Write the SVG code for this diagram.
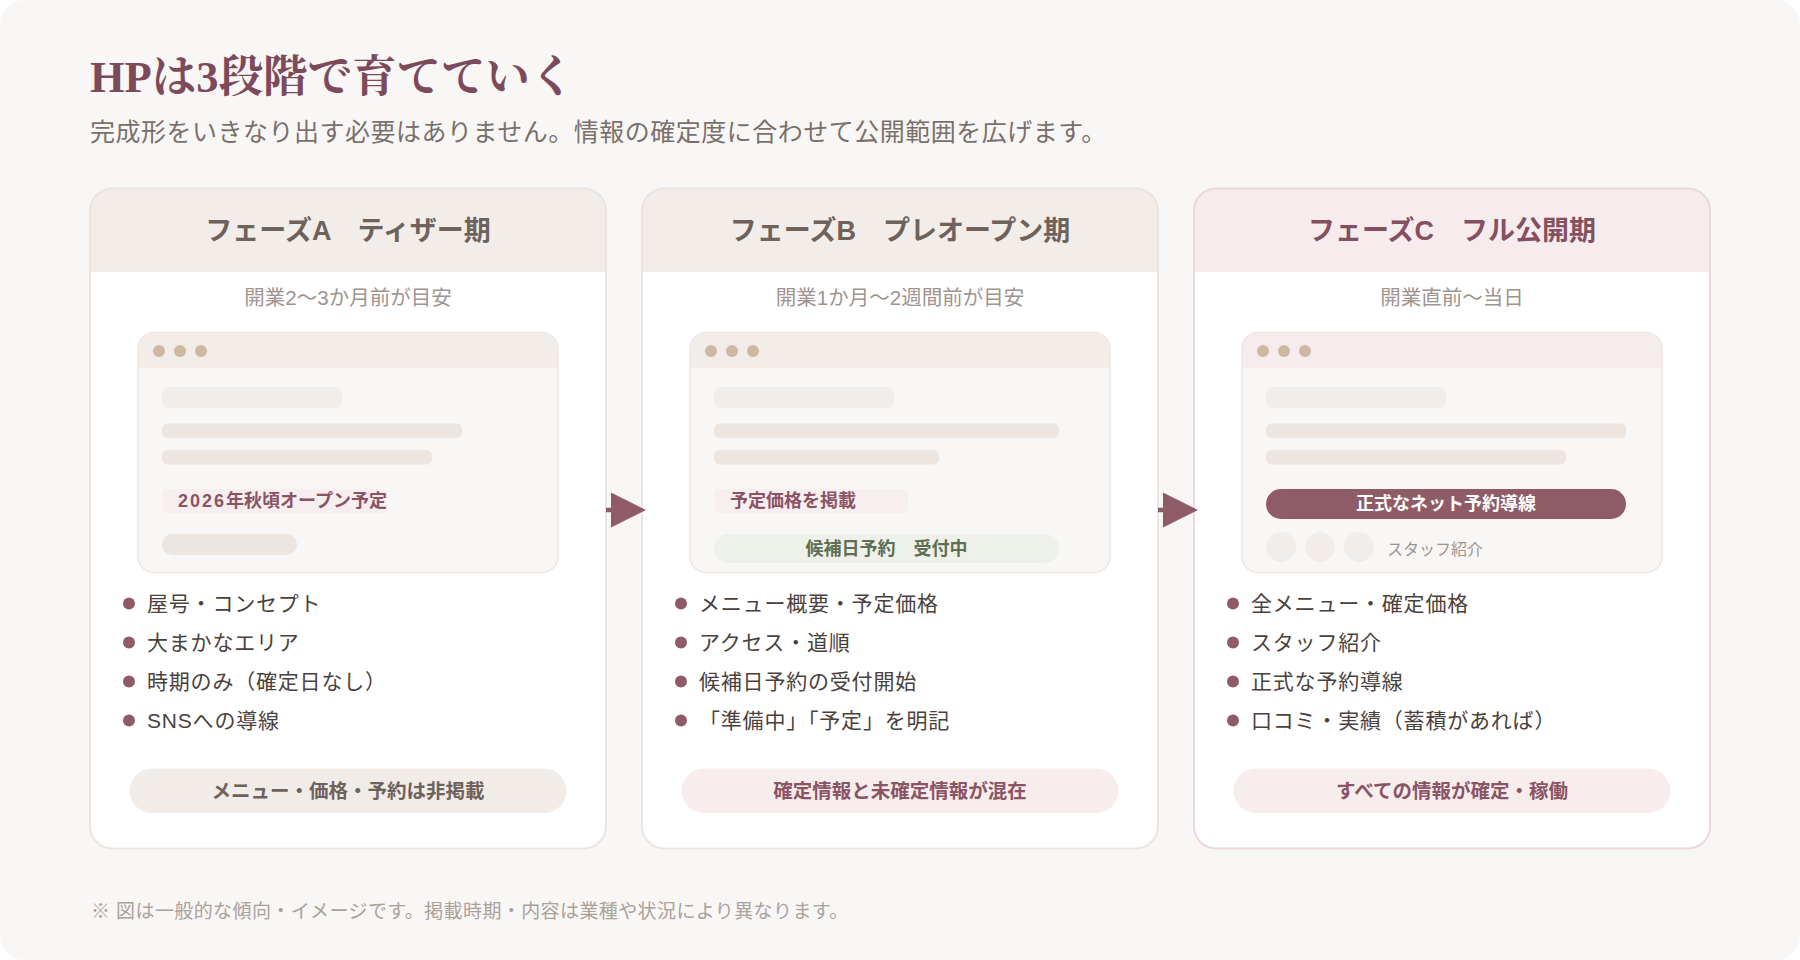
<svg xmlns="http://www.w3.org/2000/svg" width="1800" height="960" viewBox="0 0 1800 960">
  <style>
    .sans { font-family: "Liberation Sans", "Noto Sans CJK JP", sans-serif; }
    .title { font-family: "Liberation Serif", "Noto Serif CJK JP", "Noto Sans CJK JP", serif; font-weight: 700; font-size: 44.5px; fill: #7c4a5a; }
    .lead { font-size: 25px; letter-spacing: 0.5px; fill: #7a706b; }
    .card { fill: #ffffff; }
    .outline { fill: none; stroke: #ece4df; stroke-width: 2; }
    .outline-c { fill: none; stroke: #ebd7dc; stroke-width: 2; }
    .head { fill: #f2ede9; }
    .head-c { fill: #f7eced; }
    .htext { font-size: 27px; font-weight: 700; fill: #6e625b; text-anchor: middle; }
    .htext-c { font-size: 27px; font-weight: 700; fill: #85505f; text-anchor: middle; }
    .when { font-size: 20.5px; fill: #a0948e; text-anchor: middle; }
    .win { fill: #f9f7f5; stroke: #eee6e1; stroke-width: 1.5; }
    .bar-top { fill: #f2ede9; }
    .bar-top-c { fill: #f7eced; }
    .dot { fill: #cdb9a2; }
    .ph1 { fill: #f2ede9; }
    .ph2 { fill: #ede5e0; }
    .tag { fill: #f7eef0; }
    .tagtext { font-size: 18px; font-weight: 700; fill: #8a5464; }
    .digits { letter-spacing: 2px; }
    .green { fill: #eef1ea; }
    .greentext { font-size: 18px; font-weight: 700; fill: #5f6f52; text-anchor: middle; }
    .btn { fill: #8e5b67; }
    .btntext { font-size: 18px; font-weight: 700; fill: #ffffff; text-anchor: middle; }
    .avatar { fill: #f2ede9; }
    .small { font-size: 16px; fill: #a0948e; }
    .bullet { fill: #8e5b67; }
    .item { font-size: 21px; letter-spacing: 0.8px; fill: #4a413d; }
    .pill-a { fill: #f2ece8; }
    .pill-b { fill: #f7eded; }
    .pilltext-a { font-size: 19.5px; font-weight: 700; fill: #6e625b; text-anchor: middle; }
    .pilltext-b { font-size: 19.5px; font-weight: 700; fill: #8a5464; text-anchor: middle; }
    .note { font-size: 19px; letter-spacing: 0.4px; fill: #aaa19b; }
    .conn { stroke: #8e5b67; stroke-width: 4.5; fill: none; }
  </style>
  <defs>
    <marker id="arrow" viewBox="0 0 35 35" markerWidth="35" markerHeight="35" markerUnits="userSpaceOnUse" refX="0" refY="17.5" orient="auto">
      <path d="M0,0 L35,17.5 L0,35 Z" fill="#8e5b67"/>
    </marker>
  </defs>

  <rect x="0" y="0" width="1800" height="960" fill="#ffffff"/>
  <rect x="0" y="0" width="1800" height="960" rx="24" fill="#f9f7f5"/>

  <g id="heading">
    <text class="title" x="90" y="92">HPは3段階で育てていく</text>
    <text class="sans lead" x="90" y="141">完成形をいきなり出す必要はありません。情報の確定度に合わせて公開範囲を広げます。</text>
  </g>

  <!-- Phase A -->
  <g id="phase-a" class="sans">
    <rect class="card" x="90" y="188.5" width="516" height="660" rx="22"/>
    <path class="head" d="M90,272 V210.5 A22,22 0 0 1 112,188.5 H584 A22,22 0 0 1 606,210.5 V272 Z"/>
    <rect class="outline" x="90" y="188.5" width="516" height="660" rx="22"/>
    <text class="htext" x="348" y="240">フェーズA　ティザー期</text>
    <text class="when" x="348" y="305">開業2〜3か月前が目安</text>
    <rect class="win" x="138" y="332.5" width="420" height="240" rx="16"/>
    <path class="bar-top" d="M138.75,368 V348.5 A15.25,15.25 0 0 1 154,333.25 H542 A15.25,15.25 0 0 1 557.25,348.5 V368 Z"/>
    <circle class="dot" cx="159" cy="351" r="6"/>
    <circle class="dot" cx="180" cy="351" r="6"/>
    <circle class="dot" cx="201" cy="351" r="6"/>
    <rect class="ph1" x="162" y="387" width="180" height="21" rx="7"/>
    <rect class="ph2" x="162" y="423.5" width="300" height="14.5" rx="5"/>
    <rect class="ph2" x="162" y="450" width="270" height="14.5" rx="5"/>
    <rect class="tag" x="162" y="489" width="225" height="24" rx="6"/>
    <text class="tagtext" x="178" y="507"><tspan class="digits">2026</tspan>年秋頃オープン予定</text>
    <rect class="ph2" x="162" y="534" width="135" height="21" rx="10.5"/>
    <circle class="bullet" cx="129" cy="603.5" r="6"/>
    <text class="item" x="147" y="611">屋号・コンセプト</text>
    <circle class="bullet" cx="129" cy="642.5" r="6"/>
    <text class="item" x="147" y="650">大まかなエリア</text>
    <circle class="bullet" cx="129" cy="681.5" r="6"/>
    <text class="item" x="147" y="689">時期のみ（確定日なし）</text>
    <circle class="bullet" cx="129" cy="720.5" r="6"/>
    <text class="item" x="147" y="728">SNSへの導線</text>
    <rect class="pill-a" x="129.5" y="768.5" width="437" height="44.5" rx="22.25"/>
    <text class="pilltext-a" x="348" y="797.5">メニュー・価格・予約は非掲載</text>
  </g>

  <!-- Phase B -->
  <g id="phase-b" class="sans" transform="translate(552,0)">
    <rect class="card" x="90" y="188.5" width="516" height="660" rx="22"/>
    <path class="head" d="M90,272 V210.5 A22,22 0 0 1 112,188.5 H584 A22,22 0 0 1 606,210.5 V272 Z"/>
    <rect class="outline" x="90" y="188.5" width="516" height="660" rx="22"/>
    <text class="htext" x="348" y="240">フェーズB　プレオープン期</text>
    <text class="when" x="348" y="305">開業1か月〜2週間前が目安</text>
    <rect class="win" x="138" y="332.5" width="420" height="240" rx="16"/>
    <path class="bar-top" d="M138.75,368 V348.5 A15.25,15.25 0 0 1 154,333.25 H542 A15.25,15.25 0 0 1 557.25,348.5 V368 Z"/>
    <circle class="dot" cx="159" cy="351" r="6"/>
    <circle class="dot" cx="180" cy="351" r="6"/>
    <circle class="dot" cx="201" cy="351" r="6"/>
    <rect class="ph1" x="162" y="387" width="180" height="21" rx="7"/>
    <rect class="ph2" x="162" y="423.5" width="345" height="14.5" rx="5"/>
    <rect class="ph2" x="162" y="450" width="225" height="14.5" rx="5"/>
    <rect class="tag" x="162" y="489" width="194" height="24" rx="6"/>
    <text class="tagtext" x="178" y="507">予定価格を掲載</text>
    <rect class="green" x="162" y="534" width="345" height="29" rx="14.5"/>
    <text class="greentext" x="334.5" y="555">候補日予約　受付中</text>
    <circle class="bullet" cx="129" cy="603.5" r="6"/>
    <text class="item" x="147" y="611">メニュー概要・予定価格</text>
    <circle class="bullet" cx="129" cy="642.5" r="6"/>
    <text class="item" x="147" y="650">アクセス・道順</text>
    <circle class="bullet" cx="129" cy="681.5" r="6"/>
    <text class="item" x="147" y="689">候補日予約の受付開始</text>
    <circle class="bullet" cx="129" cy="720.5" r="6"/>
    <text class="item" x="147" y="728">「準備中」「予定」を明記</text>
    <rect class="pill-b" x="129.5" y="768.5" width="437" height="44.5" rx="22.25"/>
    <text class="pilltext-b" x="348" y="797.5">確定情報と未確定情報が混在</text>
  </g>

  <!-- Phase C -->
  <g id="phase-c" class="sans" transform="translate(1104,0)">
    <rect class="card" x="90" y="188.5" width="516" height="660" rx="22"/>
    <path class="head-c" d="M90,272 V210.5 A22,22 0 0 1 112,188.5 H584 A22,22 0 0 1 606,210.5 V272 Z"/>
    <rect class="outline-c" x="90" y="188.5" width="516" height="660" rx="22"/>
    <text class="htext-c" x="348" y="240">フェーズC　フル公開期</text>
    <text class="when" x="348" y="305">開業直前〜当日</text>
    <rect class="win" x="138" y="332.5" width="420" height="240" rx="16"/>
    <path class="bar-top-c" d="M138.75,368 V348.5 A15.25,15.25 0 0 1 154,333.25 H542 A15.25,15.25 0 0 1 557.25,348.5 V368 Z"/>
    <circle class="dot" cx="159" cy="351" r="6"/>
    <circle class="dot" cx="180" cy="351" r="6"/>
    <circle class="dot" cx="201" cy="351" r="6"/>
    <rect class="ph1" x="162" y="387" width="180" height="21" rx="7"/>
    <rect class="ph2" x="162" y="423.5" width="360" height="14.5" rx="5"/>
    <rect class="ph2" x="162" y="450" width="300" height="14.5" rx="5"/>
    <rect class="btn" x="162" y="489" width="360" height="30" rx="15"/>
    <text class="btntext" x="342" y="510">正式なネット予約導線</text>
    <circle class="avatar" cx="177" cy="547" r="15"/>
    <circle class="avatar" cx="216" cy="547" r="15"/>
    <circle class="avatar" cx="255" cy="547" r="15"/>
    <text class="small" x="283" y="555">スタッフ紹介</text>
    <circle class="bullet" cx="129" cy="603.5" r="6"/>
    <text class="item" x="147" y="611">全メニュー・確定価格</text>
    <circle class="bullet" cx="129" cy="642.5" r="6"/>
    <text class="item" x="147" y="650">スタッフ紹介</text>
    <circle class="bullet" cx="129" cy="681.5" r="6"/>
    <text class="item" x="147" y="689">正式な予約導線</text>
    <circle class="bullet" cx="129" cy="720.5" r="6"/>
    <text class="item" x="147" y="728">口コミ・実績（蓄積があれば）</text>
    <rect class="pill-b" x="129.5" y="768.5" width="437" height="44.5" rx="22.25"/>
    <text class="pilltext-b" x="348" y="797.5">すべての情報が確定・稼働</text>
  </g>

  <g id="connectors">
    <path class="conn" d="M606,510 H611" marker-end="url(#arrow)"/>
    <path class="conn" d="M1158,510 H1163" marker-end="url(#arrow)"/>
  </g>

  <g id="footnote">
    <text class="sans note" x="91" y="918">※ 図は一般的な傾向・イメージです。掲載時期・内容は業種や状況により異なります。</text>
  </g>
</svg>
